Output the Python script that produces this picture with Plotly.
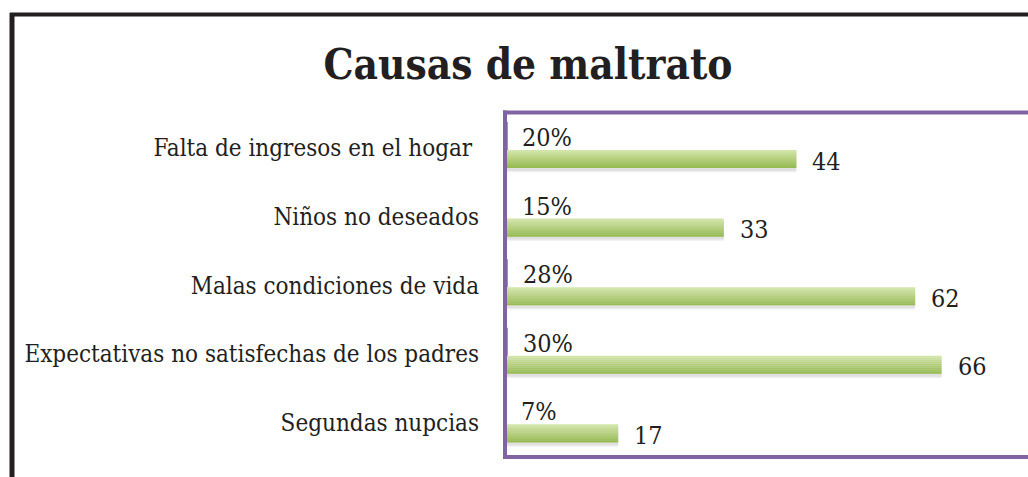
import plotly.graph_objects as go

# ---- data ----
categories = [
    "Falta de ingresos en el hogar\u00a0",
    "Niños no deseados",
    "Malas condiciones de vida",
    "Expectativas no satisfechas de los padres",
    "Segundas nupcias",
]
porcentaje = [0.20, 0.15, 0.28, 0.30, 0.07]
porcentaje_labels = ["20%", "15%", "28%", "30%", "7%"]
frecuencia = [44, 33, 62, 66, 17]
title_text = "Causas de maltrato"

# ---- style ----
FONT = "DejaVu Serif Condensed, DejaVu Serif, serif"
PURPLE = "#8064a2"
W, H = 1028, 477
ML, MT, MB = 506, 112, 20
PX_UNIT = 68.6  # pixels per category band

idx = list(range(len(categories)))
pct_off = -12 / PX_UNIT
grn_off = 11 / PX_UNIT
grn_w = 18 / PX_UNIT

fig = go.Figure()

# percentage series (tiny bars)
fig.add_trace(go.Bar(
    x=porcentaje, y=[i + pct_off for i in idx], orientation="h",
    width=28 / PX_UNIT, marker=dict(color="#9a9a9a", line=dict(width=0)),
    hoverinfo="skip", showlegend=False,
))

# soft shadow for green bars
for k, (dy, a) in enumerate([(3.5, 0.05), (2.0, 0.07)]):
    fig.add_trace(go.Bar(
        x=frecuencia, y=[i + grn_off + dy / PX_UNIT for i in idx], orientation="h",
        width=grn_w + 2 / PX_UNIT,
        marker=dict(color="rgba(0,0,0,%.2f)" % a, line=dict(width=0)),
        hoverinfo="skip", showlegend=False,
    ))

# green bars drawn as gradient slices
top_c = (210, 229, 168)
bot_c = (150, 187, 82)
n = 9
for k in range(n):
    t = k / (n - 1)
    col = tuple(int(round(top_c[j] + (bot_c[j] - top_c[j]) * t)) for j in range(3))
    sh = grn_w / n
    fig.add_trace(go.Bar(
        x=frecuencia,
        y=[i + grn_off - grn_w / 2 + sh * (k + 0.5) for i in idx],
        orientation="h", width=sh * 1.05,
        marker=dict(color="rgb(%d,%d,%d)" % col, line=dict(width=0)),
        hoverinfo="skip", showlegend=False,
    ))

fig.update_layout(barmode="overlay")

annotations = []
for i in idx:
    annotations.append(dict(
        x=porcentaje[i], y=i + pct_off + 1.5 / PX_UNIT, xref="x", yref="y",
        text=porcentaje_labels[i], showarrow=False, xanchor="left", yanchor="middle",
        xshift=13, font=dict(family=FONT, size=25, color="#231f20"),
    ))
    annotations.append(dict(
        x=frecuencia[i], y=i + grn_off + 2 / PX_UNIT, xref="x", yref="y",
        text=str(frecuencia[i]), showarrow=False, xanchor="left", yanchor="middle",
        xshift=14, font=dict(family=FONT, size=25, color="#231f20"),
    ))

pw = W - ML
ph = H - MT - MB
def px_x(p):
    return (p - ML) / pw
def px_y(p):
    return (H - MB - p) / ph

shapes = [
    # outer black frame (left + top)
    dict(type="line", xref="paper", yref="paper", x0=px_x(12), x1=px_x(12),
         y0=px_y(13), y1=px_y(480), line=dict(color="#231f20", width=5)),
    dict(type="line", xref="paper", yref="paper", x0=px_x(10), x1=px_x(1032),
         y0=px_y(14.5), y1=px_y(14.5), line=dict(color="#231f20", width=4)),
    # purple plot-area border
    dict(type="line", xref="paper", yref="paper", x0=px_x(505), x1=px_x(505),
         y0=px_y(110.5), y1=px_y(459), line=dict(color=PURPLE, width=4)),
    dict(type="line", xref="paper", yref="paper", x0=px_x(503), x1=px_x(1032),
         y0=px_y(112.5), y1=px_y(112.5), line=dict(color=PURPLE, width=4)),
    dict(type="line", xref="paper", yref="paper", x0=px_x(503), x1=px_x(1032),
         y0=px_y(457), y1=px_y(457), line=dict(color=PURPLE, width=4)),
]

fig.update_layout(
    width=W, height=H,
    margin=dict(l=ML, r=0, t=MT, b=MB, pad=0),
    paper_bgcolor="white", plot_bgcolor="white",
    title=dict(text="<b>" + title_text + "</b>", x=528 / W, xanchor="center",
               y=1 - 64 / H, yanchor="middle", yref="container",
               font=dict(family=FONT, size=42, color="#231f20")),
    xaxis=dict(range=[0, pw / 6.6], showgrid=False, zeroline=False,
               showticklabels=False, ticks="", showline=False, fixedrange=True),
    yaxis=dict(range=[(H - MB - 148) / PX_UNIT, -(148 - MT) / PX_UNIT],
               tickmode="array", tickvals=idx, ticktext=categories,
               showgrid=False, zeroline=False, ticks="", showline=False,
               ticklabelstandoff=26,
               tickfont=dict(family=FONT, size=24, color="#231f20"), fixedrange=True),
    annotations=annotations,
    shapes=shapes,
    showlegend=False,
)

fig.write_html(
    "out.html",
    config={"displayModeBar": False},
    post_script="document.body.style.margin='0px';document.body.style.overflow='hidden';",
)
